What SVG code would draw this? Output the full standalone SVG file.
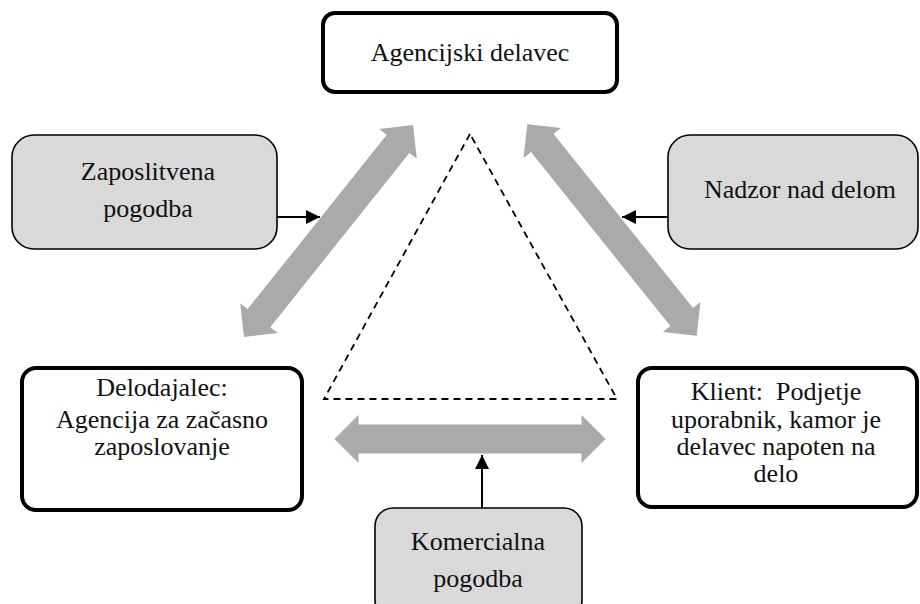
<svg xmlns="http://www.w3.org/2000/svg" width="920" height="604" viewBox="0 0 920 604">
<defs>
<style>
.main{fill:#ffffff;stroke:#000;stroke-width:4}
.side{fill:#d9d9d9;stroke:#000;stroke-width:1.6}
.t{font-family:'Liberation Serif','Times New Roman','DejaVu Serif',serif;font-size:26px;fill:#111;text-anchor:middle}
.big{fill:#aaaaaa}
.ptr{stroke:#000;stroke-width:2;fill:none}
</style>
<marker id="ah" viewBox="0 0 10 10" refX="10" refY="5" markerWidth="7" markerHeight="7" orient="auto" markerUnits="strokeWidth">
<path d="M0,0 L10,5 L0,10 z" fill="#000"/>
</marker>
<polygon id="dbl" points="-135.5,0 -111.5,-24 -111.5,-14.5 111.5,-14.5 111.5,-24 135.5,0 111.5,24 111.5,14.5 -111.5,14.5 -111.5,24"/>
</defs>
<rect width="920" height="604" fill="#fff"/>

<g id="triangle">
<polygon points="470,134 324,399 617,399" fill="none" stroke="#000" stroke-width="1.8" stroke-dasharray="7,5"/>
</g>

<g id="connectors">
<use href="#dbl" class="big" transform="translate(328.5,231) rotate(-51.4)"/>
<use href="#dbl" class="big" transform="translate(612,230) rotate(51.3)"/>
<use href="#dbl" class="big" transform="translate(470,439)"/>
<line class="ptr" x1="277" y1="217" x2="320" y2="217" marker-end="url(#ah)"/>
<line class="ptr" x1="668" y1="217" x2="622" y2="217" marker-end="url(#ah)"/>
<line class="ptr" x1="482" y1="508" x2="482" y2="455" marker-end="url(#ah)"/>
</g>

<g id="agencijski-delavec">
<rect class="main" x="323" y="13" width="294" height="79" rx="12"/>
<text class="t" font-family="Liberation Serif, serif" x="470" y="61">Agencijski delavec</text>
</g>

<g id="zaposlitvena-pogodba">
<rect class="side" x="12" y="135" width="265" height="114" rx="22"/>
<text class="t" x="148" y="180">Zaposlitvena</text>
<text class="t" x="148" y="217">pogodba</text>
</g>

<g id="nadzor-nad-delom">
<rect class="side" x="668" y="135" width="250" height="114" rx="22"/>
<text class="t" x="800" y="198">Nadzor nad delom</text>
</g>

<g id="delodajalec">
<rect class="main" x="22" y="368" width="280" height="142" rx="14"/>
<text class="t" x="162" y="396">Delodajalec:</text>
<text class="t" x="162" y="428">Agencija za začasno</text>
<text class="t" x="162" y="455">zaposlovanje</text>
</g>

<g id="klient">
<rect class="main" x="638" y="368" width="279" height="139" rx="14"/>
<text class="t" x="776" y="400" xml:space="preserve">Klient:  Podjetje</text>
<text class="t" x="776" y="428">uporabnik, kamor je</text>
<text class="t" x="776" y="455">delavec napoten na</text>
<text class="t" x="776" y="482">delo</text>
</g>

<g id="komercialna-pogodba">
<rect class="side" x="375" y="508" width="207" height="110" rx="18"/>
<text class="t" x="478" y="550">Komercialna</text>
<text class="t" x="478" y="587">pogodba</text>
</g>
</svg>
